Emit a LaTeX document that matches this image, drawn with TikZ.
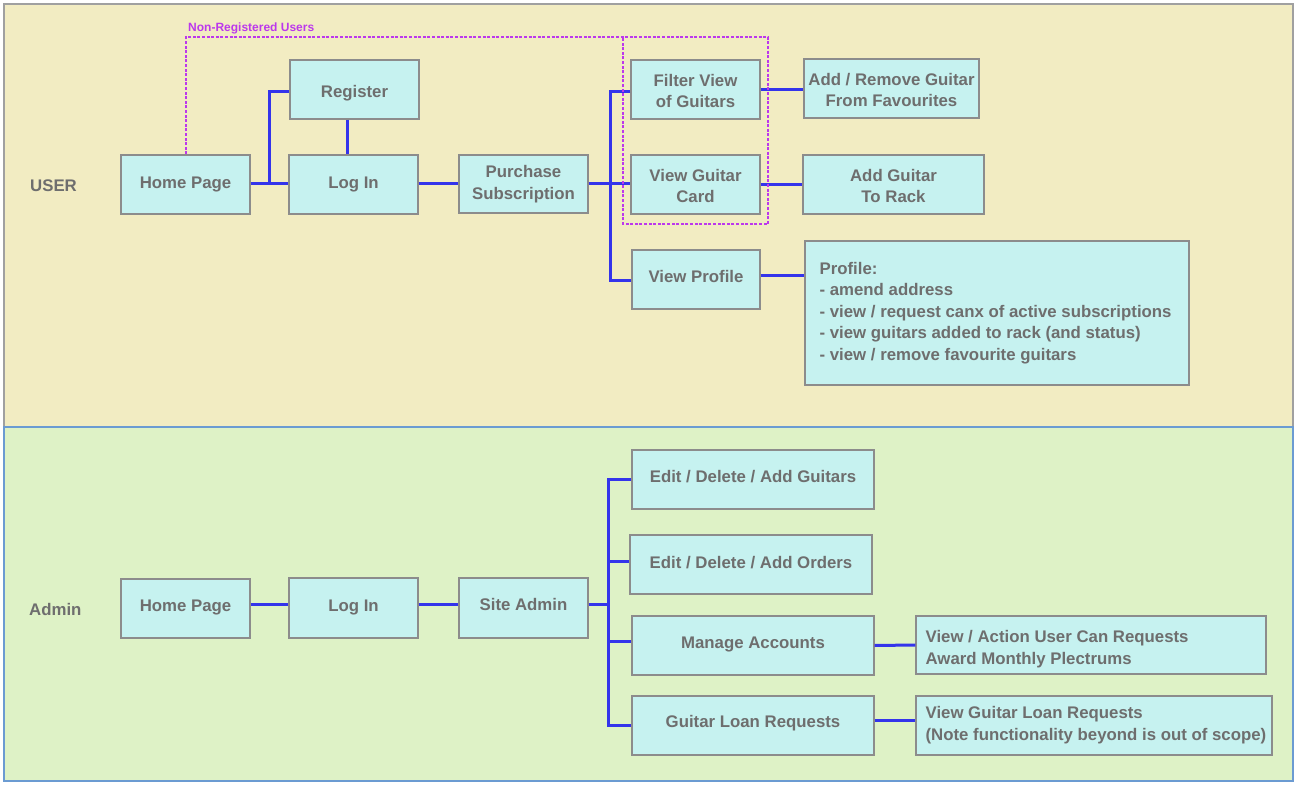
\documentclass[tikz,border=0pt]{standalone}
\usepackage{fontspec}
\setmainfont{Liberation Sans}
\definecolor{userpanel}{RGB}{242,236,194}
\definecolor{adminpanel}{RGB}{222,242,198}
\definecolor{userframe}{RGB}{160,160,160}
\definecolor{adminframe}{RGB}{107,155,210}
\definecolor{boxfill}{RGB}{198,242,240}
\definecolor{boxline}{RGB}{140,140,140}
\definecolor{labelgrey}{RGB}{110,110,110}
\definecolor{linkblue}{RGB}{52,52,235}
\definecolor{guestmagenta}{RGB}{188,56,236}
\newcommand\boxfont{\fontsize{16.8}{21.5}\selectfont\bfseries}
% box caption moved vertically by #1 without changing the box size
\newcommand\nudged[2]{\raisebox{#1}[\height][\depth]{\begin{tabular}{@{}c@{}}#2\end{tabular}}}
\begin{document}
\begin{tikzpicture}[x=1pt,y=-1pt,
  box/.style={draw=boxline, fill=boxfill, line width=1.2pt, inner sep=0pt,
    align=center, font=\boxfont, text=labelgrey},
  sbox/.style={box, minimum width=129pt, minimum height=59pt},
  notetext/.style={font=\boxfont, text=labelgrey, align=left, anchor=west, inner sep=0pt},
  link/.style={draw=linkblue, line width=3pt},
  guest/.style={draw=guestmagenta, line width=1.6pt, dash pattern=on 3pt off 1.6pt},
  lane/.style={font=\boxfont, text=labelgrey, anchor=west, inner sep=0pt}]
\useasboundingbox (0,0) rectangle (1299,789);
\fill[white] (0,0) rectangle (1299,789);

% swimlanes
\draw[fill=userpanel, draw=userframe, line width=1.2pt] (4,4) rectangle (1293,427);
\draw[fill=adminpanel, draw=adminframe, line width=1.2pt] (4,427) rectangle (1293,781);
\node[lane] (userlane) at (30,186) {USER};
\node[lane] (adminlane) at (29,609) {Admin};

% ---------- user flow ----------
\node[sbox] (hp) at (185.5,184.5) {Home Page};
\node[sbox] (reg) at (354.5,89.5) {\nudged{-4pt}{Register}};
\node[sbox] (li) at (353.5,184.5) {Log In};
\node[sbox, minimum height=58pt] (ps) at (523.5,184) {Purchase\\Subscription};
\node[sbox] (fv) at (695.5,89.5) {\nudged{-3pt}{Filter View\\of Guitars}};
\node[sbox] (vgc) at (695.5,184.5) {\nudged{-3pt}{View Guitar\\Card}};
\node[sbox, minimum width=128pt] (vp) at (696,279.5) {\nudged{1pt}{View Profile}};
\node[box, minimum width=175pt, minimum height=59pt] (arf) at (891.5,88.5) {\nudged{-3pt}{Add / Remove Guitar\\From Favourites}};
\node[box, minimum width=181pt, minimum height=59pt] (agr) at (893.5,184.5) {\nudged{-3pt}{Add Guitar\\To Rack}};
\node[box, minimum width=384pt, minimum height=144pt] (prof) at (997,313) {};
\node[notetext] (proftext) at ([xshift=15pt]prof.west)
  {Profile:\\- amend address\\- view / request canx of active subscriptions\\- view guitars added to rack (and status)\\- view / remove favourite guitars};

\coordinate (uj1) at (269,183.5);
\coordinate (uj2) at (610.5,183.5);
\draw[link] (hp.east |- uj1) -- (li.west |- uj1);
\draw[link] (uj1) |- ([yshift=-2.5pt]reg.west);
\draw[link] ([xshift=-7.5pt]reg.south) -- ([xshift=-7.5pt]reg.south |- li.north);
\draw[link] (li.east |- uj1) -- (ps.west |- uj1);
\draw[link] (ps.east |- uj2) -- (vgc.west |- uj2);
\draw[link] ([yshift=-2.5pt]fv.west) -| (uj2) |- ([yshift=-0.5pt]vp.west);
\draw[link] (fv.east) -- (fv.east -| arf.west);
\draw[link] (vgc.east) -- (vgc.east -| agr.west);
\draw[link] ([yshift=4.5pt]vp.east) -- ([yshift=4.5pt]vp.east -| prof.west);

% area open to visitors without an account
\coordinate (gtop) at (186,37);
\draw[guest] ([xshift=0.5pt]hp.north) -- (gtop) -- (768,37) -- (768,224) -- (623,224) -- (623,37);
\node[font=\fontsize{12}{14}\selectfont\bfseries, text=guestmagenta, anchor=base west, inner sep=0pt]
  (guestlabel) at (188,32) {Non-Registered Users};

% ---------- admin flow ----------
\node[sbox] (ahp) at (185.5,608.5) {\nudged{1pt}{Home Page}};
\node[sbox, minimum height=60pt] (ali) at (353.5,608) {\nudged{1pt}{Log In}};
\node[sbox, minimum height=60pt] (sa) at (523.5,608) {\nudged{2pt}{Site Admin}};
\node[box, minimum width=242pt, minimum height=59pt] (edg) at (753,479.5) {\nudged{1pt}{Edit / Delete / Add Guitars}};
\node[box, minimum width=242pt, minimum height=59pt] (edo) at (751,564.5) {\nudged{0pt}{Edit / Delete / Add Orders}};
\node[box, minimum width=242pt, minimum height=59pt] (ma) at (753,645.5) {\nudged{1pt}{Manage Accounts}};
\node[box, minimum width=242pt, minimum height=59pt] (glr) at (753,725.5) {\nudged{2pt}{Guitar Loan Requests}};
\node[box, minimum width=350pt, minimum height=58pt] (vau) at (1091,645) {};
\node[notetext] (vautext) at ([xshift=10pt,yshift=-4pt]vau.west)
  {View / Action User Can Requests\\Award Monthly Plectrums};
\node[box, minimum width=356pt, minimum height=59pt] (vgl) at (1094,725.5) {};
\node[notetext] (vgltext) at ([xshift=10pt,yshift=0.5pt]vgl.west)
  {View Guitar Loan Requests\\(Note functionality beyond is out of scope)};

\coordinate (aj) at (608,604);
\draw[link] (ahp.east |- aj) -- (ali.west |- aj);
\draw[link] (ali.east |- aj) -- (sa.west |- aj);
\draw[link] (sa.east |- aj) -- (aj);
\draw[link] (edg.west) -| (aj) |- (glr.west);
\draw[link] (aj |- 0,561) -- (edo.west |- 0,561);
\draw[link] (aj |- 0,641.5) -- (ma.west |- 0,641.5);
\draw[link] (ma.east) -- (vau.west);
\draw[link] ([yshift=5.5pt]glr.east) -- ([yshift=5.5pt]glr.east -| vgl.west);
\end{tikzpicture}
\end{document}
